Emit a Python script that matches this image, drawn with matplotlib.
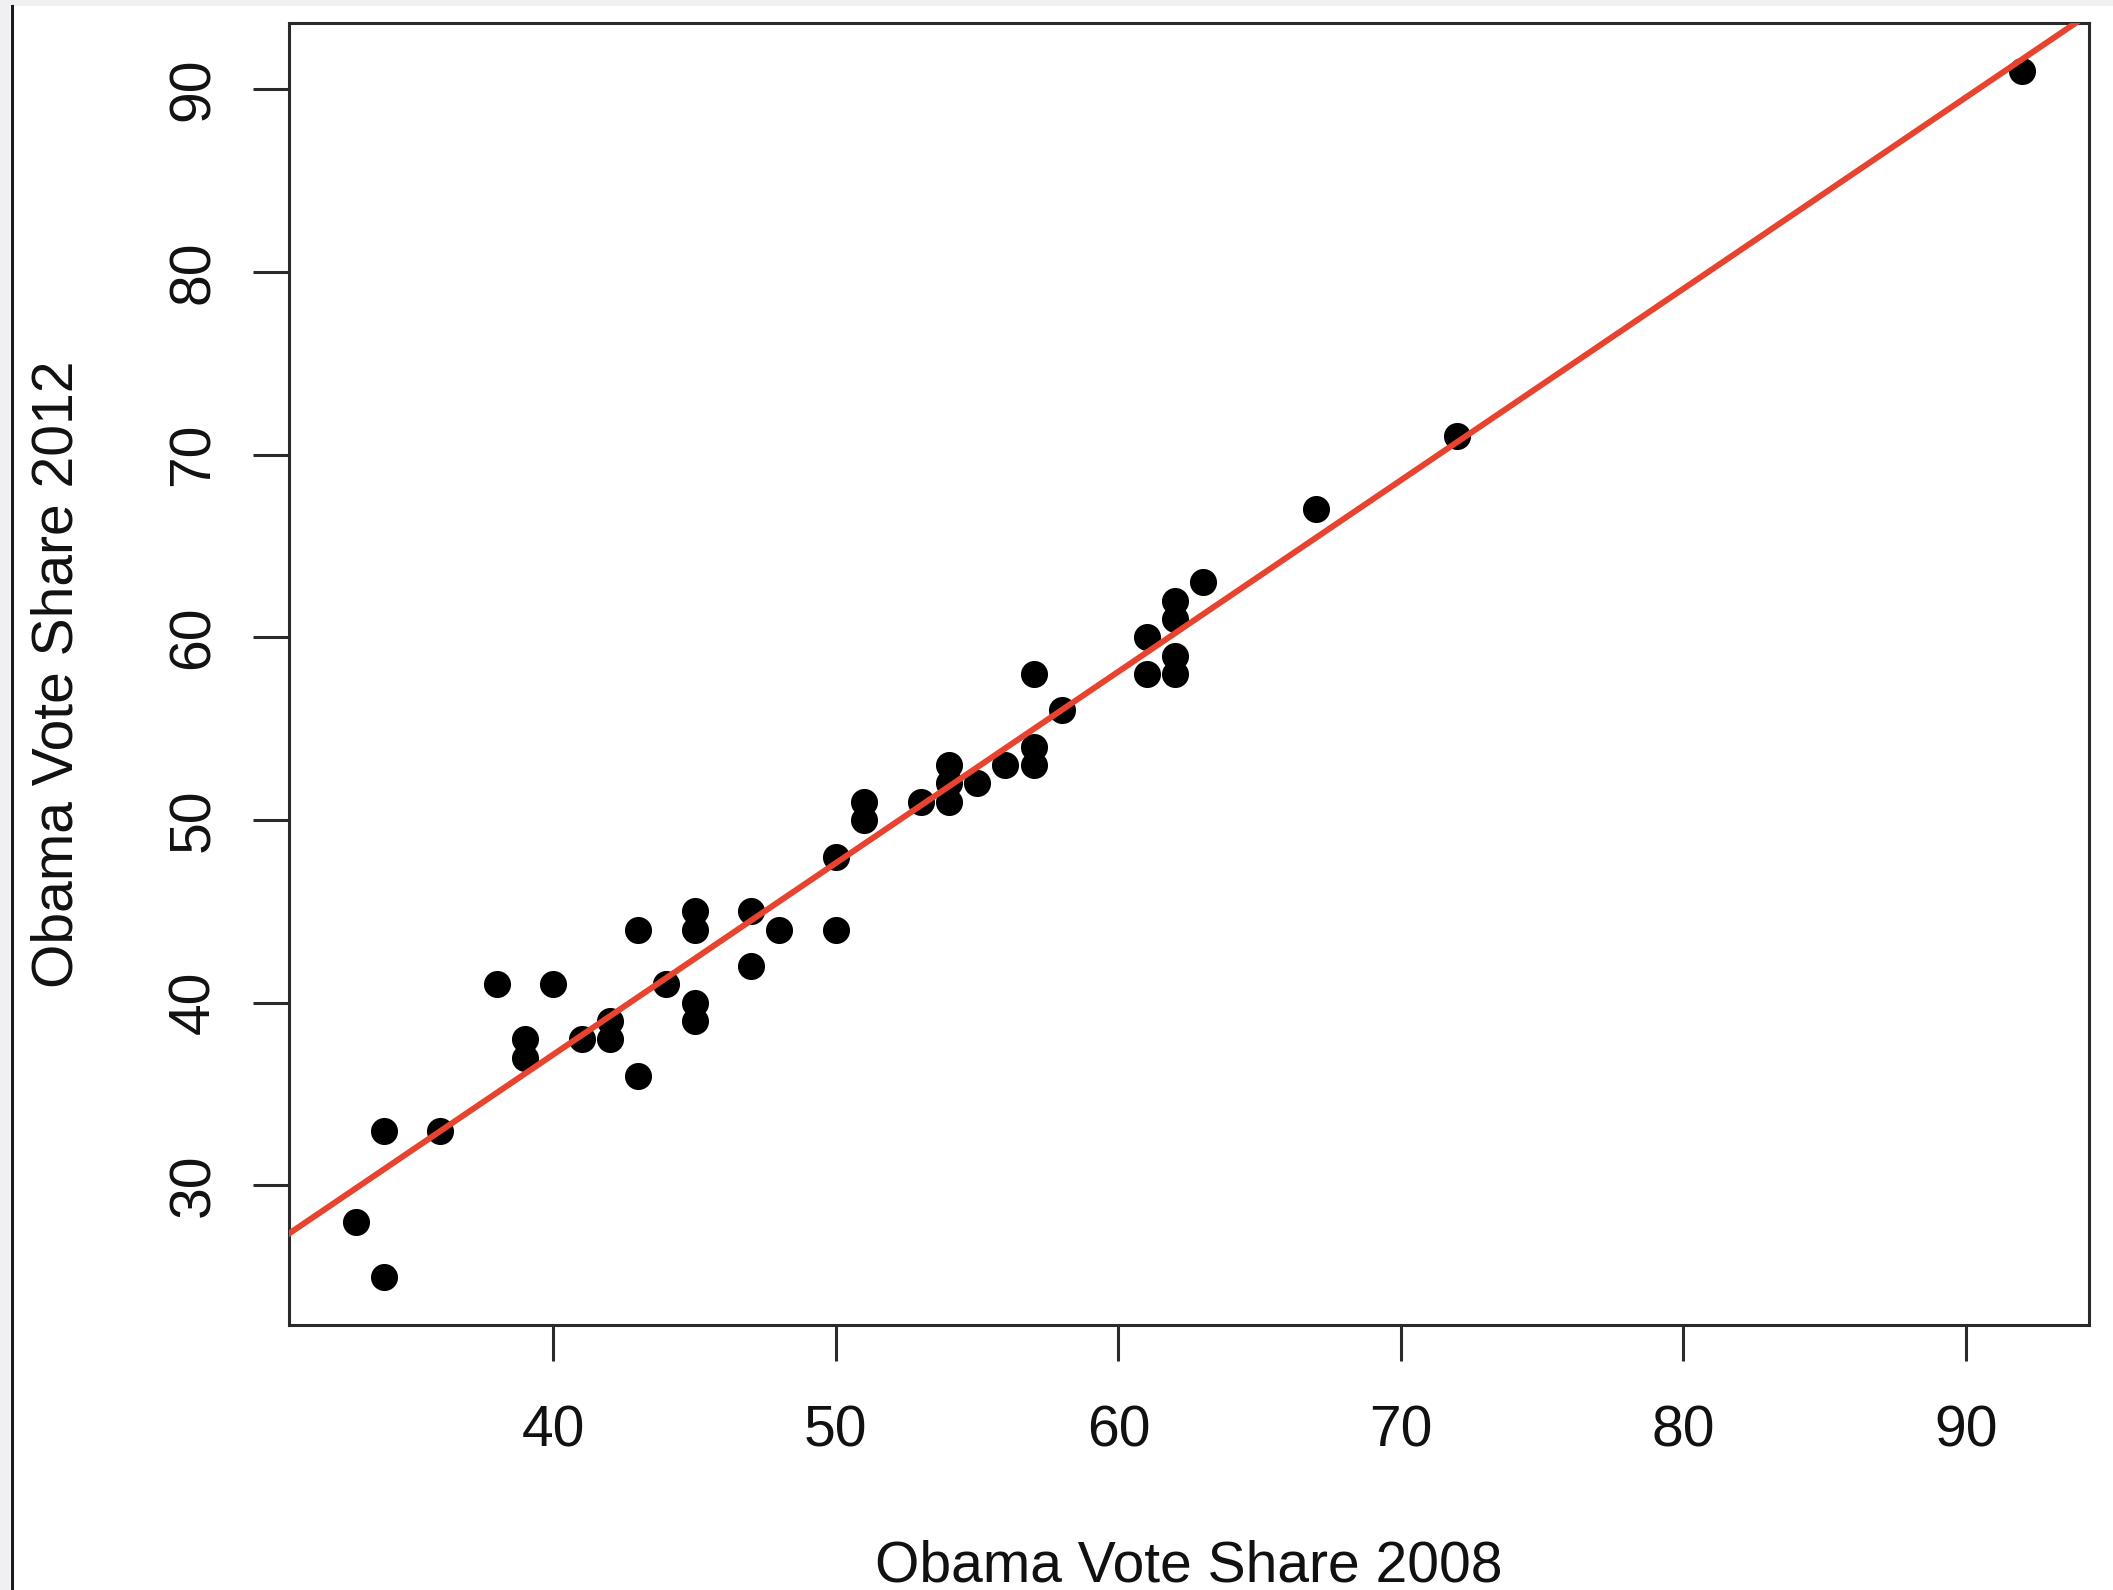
import numpy as np
import matplotlib
matplotlib.use("Agg")
import matplotlib.pyplot as plt
from matplotlib.patches import Rectangle
from matplotlib.lines import Line2D

# Obama vote share by state, 2008 vs 2012 (percent)
share_2008 = [33, 34, 34, 36, 38, 39, 39, 40, 41, 42, 42, 43, 43, 44, 45,
              45, 45, 45, 47, 47, 48, 50, 50, 51, 51, 53, 54, 54, 54, 55,
              56, 57, 57, 57, 58, 61, 61, 62, 62, 62, 62, 63, 67, 72, 92]
share_2012 = [28, 25, 33, 33, 41, 38, 37, 41, 38, 39, 38, 44, 36, 41, 45,
              44, 40, 39, 45, 42, 44, 48, 44, 51, 50, 51, 53, 52, 51, 52,
              53, 58, 54, 53, 56, 60, 58, 62, 61, 59, 58, 63, 67, 71, 91]

x_ticks = [40, 50, 60, 70, 80, 90]
y_ticks = [30, 40, 50, 60, 70, 80, 90]
x_label = "Obama Vote Share 2008"
y_label = "Obama Vote Share 2012"

plt.rcParams["font.family"] = ["Liberation Sans", "DejaVu Sans"]

W, H, DPI = 2113, 1590, 100
fig = plt.figure(figsize=(W / DPI, H / DPI), dpi=DPI, facecolor="#f0f0f2")

# white page area with a dark left rule, kept behind the axes
fig.patches.append(Rectangle((10 / W, 0), 1 - 10 / W, 1 - 6 / H,
                             transform=fig.transFigure, facecolor="white",
                             edgecolor="none", zorder=-2))
fig.lines.append(Line2D([11.5 / W, 11.5 / W], [0, 1 - 6 / H],
                        transform=fig.transFigure, color="#1a1a1a",
                        linewidth=2.2, zorder=-1))

ax = fig.add_axes([289 / W, 1 - 1325 / H, (2089 - 289) / W, (1325 - 22.7) / H])
ax.set_facecolor("white")

x = np.array(share_2008, dtype=float)
y = np.array(share_2012, dtype=float)

# axis ranges padded by 4% of the data range on each side
def padded(v):
    r = v.max() - v.min()
    return v.min() - 0.04 * r, v.max() + 0.04 * r

ax.set_xlim(*padded(x))
ax.set_ylim(*padded(y))

ax.plot(x, y, linestyle="none", marker="o", markersize=19.5,
        color="black", markeredgewidth=0, zorder=3)

slope, intercept = np.polyfit(x, y, 1)
ax.axline((0, intercept), slope=slope, color="#e8432e", linewidth=4.3,
          zorder=4)

for s in ax.spines.values():
    s.set_linewidth(2.2)
    s.set_color("#2a2a2a")

ax.set_xticks(x_ticks)
ax.set_yticks(y_ticks)
ax.tick_params(axis="both", direction="out", length=26, width=2.2,
               color="#2a2a2a", labelsize=41, labelcolor="#111111")
ax.tick_params(axis="x", pad=31)
ax.tick_params(axis="y", pad=23, labelrotation=90)
for lbl in ax.get_yticklabels():
    lbl.set_va("center")

ax.set_xlabel(x_label, fontsize=41, color="#111111", va="center")
ax.set_ylabel(y_label, fontsize=41, color="#111111", va="center")
ax.xaxis.set_label_coords(0.5, (1325 - 1567) / (1325 - 22.7))
ax.yaxis.set_label_coords((58 - 289) / (2089 - 289), 0.5)

fig.savefig("out.png", dpi=DPI, facecolor=fig.get_facecolor())
